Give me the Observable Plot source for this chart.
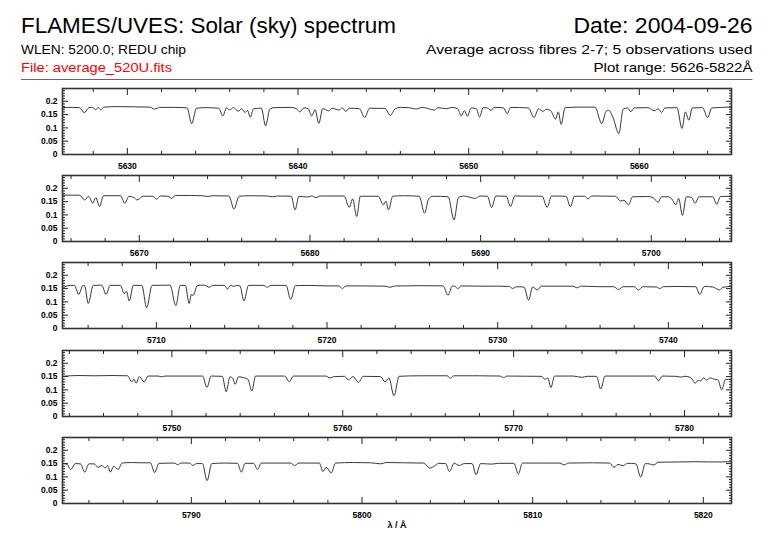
<!DOCTYPE html>
<html><head><meta charset="utf-8">
<script src="https://cdn.jsdelivr.net/npm/d3@7"></script>
<script src="https://cdn.jsdelivr.net/npm/@observablehq/plot@0.6"></script>
<style>
html,body{margin:0;padding:0;background:#fff;}
#chart{position:relative;width:782px;height:542px;overflow:hidden;background:#fff;}
#chart svg{position:absolute;left:0;}
</style></head><body><div id="chart"></div>
<script>
// ---- texts ----
const titleText = "FLAMES/UVES: Solar (sky) spectrum";
const dateText = "Date: 2004-09-26";
const infoLeft = "WLEN: 5200.0; REDU chip";
const infoRight = "Average across fibres 2-7; 5 observations used";
const fileText = "File: average_520U.fits";
const rangeText = "Plot range: 5626-5822Å";
const xLabel = "λ / Å";

// ---- axes ----
const panelDomains = [[5626.2,5665.4],[5665.5,5704.7],[5704.5,5743.7],[5743.6,5782.75],[5782.45,5821.65]];
const yDomain = [0, 0.248];
const yMajor = [0, 0.05, 0.1, 0.15, 0.2];
const yMajorLabels = ["0", "0.05", "0.1", "0.15", "0.2"];
const yMinor = [0.01,0.02,0.03,0.04,0.06,0.07,0.08,0.09,0.11,0.12,0.13,0.14,0.16,0.17,0.18,0.19,0.21,0.22,0.23,0.24];

// ---- spectrum: [wavelength (Å), flux] ----
const spec1 = [[5626.2,0.176],[5626.8,0.177],[5627.2,0.176],[5627.48,0.157],[5627.75,0.176],[5627.95,0.177],[5628.14,0.169],[5628.3,0.176],[5628.45,0.168],[5628.62,0.178],[5629.5,0.180],[5630.5,0.179],[5631.3,0.178],[5631.6,0.171],[5631.9,0.177],[5632.8,0.177],[5633.5,0.175],[5633.77,0.116],[5634.05,0.174],[5634.6,0.176],[5635.35,0.174],[5635.6,0.145],[5635.8,0.175],[5636.0,0.168],[5636.2,0.176],[5636.5,0.163],[5636.7,0.172],[5636.9,0.158],[5637.05,0.165],[5637.2,0.140],[5637.4,0.172],[5637.85,0.174],[5638.1,0.108],[5638.35,0.170],[5638.6,0.176],[5639.6,0.177],[5639.9,0.172],[5640.1,0.160],[5640.35,0.175],[5640.6,0.172],[5640.8,0.145],[5641.0,0.168],[5641.22,0.117],[5641.45,0.172],[5641.8,0.164],[5642.0,0.174],[5642.4,0.167],[5642.6,0.175],[5642.8,0.162],[5643.0,0.174],[5643.6,0.172],[5643.9,0.139],[5644.2,0.174],[5645.1,0.173],[5645.4,0.147],[5645.7,0.172],[5646.0,0.177],[5646.5,0.176],[5646.9,0.171],[5647.3,0.177],[5648.0,0.167],[5648.2,0.176],[5648.7,0.172],[5649.0,0.177],[5649.35,0.172],[5649.57,0.145],[5649.75,0.165],[5649.92,0.144],[5650.15,0.175],[5650.45,0.172],[5650.64,0.141],[5650.85,0.176],[5651.1,0.175],[5651.3,0.166],[5651.5,0.177],[5652.05,0.175],[5652.26,0.153],[5652.45,0.177],[5653.5,0.175],[5653.82,0.139],[5654.1,0.172],[5654.35,0.162],[5654.55,0.170],[5654.8,0.165],[5655.09,0.133],[5655.25,0.160],[5655.42,0.113],[5655.65,0.176],[5656.5,0.178],[5657.4,0.178],[5657.8,0.116],[5658.05,0.162],[5658.2,0.166],[5658.45,0.140],[5658.8,0.079],[5659.05,0.170],[5659.3,0.175],[5659.5,0.161],[5659.7,0.175],[5660.5,0.176],[5660.9,0.164],[5661.1,0.172],[5661.3,0.158],[5661.5,0.175],[5662.2,0.176],[5662.5,0.098],[5662.7,0.160],[5662.9,0.129],[5663.1,0.175],[5663.7,0.176],[5664.0,0.139],[5664.25,0.175],[5665.4,0.178]];
const spec2 = [[5665.5,0.174],[5666.5,0.174],[5666.8,0.156],[5667.03,0.170],[5667.28,0.144],[5667.45,0.165],[5667.67,0.131],[5667.9,0.172],[5668.9,0.172],[5669.15,0.144],[5669.4,0.170],[5669.7,0.165],[5669.86,0.156],[5670.0,0.160],[5670.2,0.170],[5670.8,0.170],[5671.0,0.159],[5671.25,0.171],[5671.7,0.170],[5671.9,0.162],[5672.1,0.173],[5673.0,0.173],[5673.7,0.172],[5674.0,0.169],[5674.3,0.172],[5675.25,0.171],[5675.55,0.122],[5675.85,0.170],[5676.5,0.172],[5677.5,0.171],[5677.8,0.168],[5678.1,0.171],[5678.9,0.170],[5679.13,0.119],[5679.35,0.170],[5679.86,0.167],[5680.1,0.171],[5680.35,0.165],[5680.6,0.171],[5682.0,0.171],[5682.3,0.128],[5682.5,0.160],[5682.74,0.094],[5682.95,0.170],[5684.0,0.170],[5684.3,0.138],[5684.45,0.152],[5684.6,0.119],[5684.85,0.170],[5685.5,0.172],[5686.4,0.170],[5686.72,0.106],[5686.95,0.160],[5687.2,0.170],[5688.1,0.168],[5688.44,0.081],[5688.7,0.165],[5689.0,0.171],[5689.7,0.162],[5689.95,0.171],[5690.4,0.170],[5690.64,0.128],[5690.9,0.171],[5691.5,0.170],[5691.75,0.131],[5692.0,0.171],[5693.6,0.170],[5693.9,0.128],[5694.15,0.171],[5695.0,0.170],[5695.26,0.131],[5695.5,0.170],[5696.1,0.170],[5696.3,0.160],[5696.5,0.171],[5697.9,0.170],[5698.2,0.152],[5698.4,0.155],[5698.67,0.138],[5698.9,0.168],[5699.8,0.169],[5700.1,0.165],[5700.4,0.148],[5700.6,0.168],[5701.0,0.168],[5701.2,0.160],[5701.44,0.138],[5701.6,0.162],[5701.83,0.098],[5702.05,0.168],[5702.35,0.166],[5702.57,0.144],[5702.8,0.168],[5703.6,0.168],[5703.84,0.140],[5704.05,0.169],[5704.7,0.170]];
const spec3 = [[5704.5,0.150],[5704.77,0.160],[5705.2,0.162],[5705.45,0.128],[5705.7,0.162],[5705.8,0.160],[5706.01,0.094],[5706.3,0.162],[5706.8,0.163],[5707.05,0.128],[5707.3,0.162],[5707.9,0.162],[5708.12,0.131],[5708.25,0.140],[5708.41,0.103],[5708.65,0.162],[5709.15,0.162],[5709.43,0.078],[5709.75,0.162],[5710.8,0.163],[5711.14,0.086],[5711.4,0.162],[5711.7,0.162],[5711.92,0.094],[5712.05,0.128],[5712.15,0.124],[5712.4,0.161],[5712.8,0.163],[5713.1,0.155],[5713.3,0.162],[5714.0,0.162],[5714.16,0.148],[5714.35,0.162],[5714.55,0.158],[5714.7,0.162],[5714.9,0.160],[5715.13,0.103],[5715.4,0.162],[5716.3,0.162],[5716.5,0.155],[5716.7,0.162],[5717.6,0.162],[5717.87,0.109],[5718.15,0.161],[5719.0,0.162],[5720.0,0.160],[5720.7,0.160],[5720.9,0.150],[5721.1,0.160],[5722.0,0.160],[5723.4,0.159],[5723.7,0.155],[5724.0,0.160],[5724.5,0.160],[5725.5,0.161],[5726.8,0.160],[5727.09,0.125],[5727.35,0.160],[5727.5,0.158],[5727.67,0.150],[5727.85,0.160],[5729.0,0.159],[5730.0,0.159],[5730.7,0.158],[5730.87,0.150],[5731.05,0.156],[5731.25,0.157],[5731.55,0.155],[5731.81,0.106],[5732.05,0.156],[5732.33,0.145],[5732.55,0.159],[5734.4,0.159],[5734.66,0.153],[5734.9,0.159],[5736.0,0.157],[5736.8,0.157],[5737.09,0.146],[5737.35,0.157],[5738.0,0.157],[5738.25,0.145],[5738.5,0.157],[5739.3,0.156],[5739.5,0.150],[5739.7,0.157],[5740.5,0.158],[5741.6,0.157],[5741.84,0.128],[5742.1,0.158],[5742.6,0.156],[5743.0,0.145],[5743.2,0.155],[5743.7,0.158]];
const spec4 = [[5743.6,0.151],[5744.5,0.154],[5745.5,0.153],[5746.5,0.154],[5747.4,0.153],[5747.66,0.130],[5747.78,0.140],[5747.9,0.125],[5748.1,0.150],[5748.38,0.130],[5748.6,0.152],[5749.2,0.152],[5749.4,0.149],[5749.6,0.152],[5751.8,0.152],[5752.05,0.109],[5752.3,0.152],[5752.95,0.151],[5753.18,0.093],[5753.4,0.149],[5753.55,0.145],[5753.7,0.121],[5753.9,0.149],[5754.2,0.146],[5754.45,0.140],[5754.68,0.096],[5754.9,0.152],[5756.6,0.152],[5756.88,0.130],[5757.1,0.152],[5759.0,0.152],[5759.26,0.145],[5759.5,0.150],[5760.1,0.151],[5760.33,0.138],[5760.6,0.150],[5760.92,0.128],[5761.2,0.151],[5762.2,0.150],[5762.48,0.130],[5762.7,0.145],[5763.0,0.078],[5763.3,0.151],[5764.5,0.153],[5766.1,0.153],[5766.3,0.144],[5766.5,0.153],[5768.0,0.153],[5769.2,0.152],[5769.42,0.146],[5769.6,0.152],[5771.6,0.151],[5771.85,0.140],[5772.0,0.145],[5772.18,0.109],[5772.4,0.152],[5773.5,0.152],[5774.0,0.147],[5774.3,0.151],[5774.85,0.151],[5775.1,0.103],[5775.35,0.152],[5777.0,0.152],[5778.25,0.152],[5778.48,0.134],[5778.7,0.152],[5779.5,0.151],[5779.8,0.148],[5780.0,0.151],[5780.3,0.148],[5780.45,0.140],[5780.62,0.125],[5780.8,0.136],[5780.95,0.133],[5781.1,0.145],[5781.3,0.137],[5781.5,0.145],[5781.75,0.140],[5781.95,0.138],[5782.18,0.100],[5782.4,0.140],[5782.75,0.138]];
const spec5 = [[5782.45,0.150],[5782.7,0.148],[5782.93,0.128],[5783.2,0.150],[5783.5,0.149],[5783.75,0.118],[5784.0,0.149],[5784.3,0.149],[5784.53,0.136],[5784.75,0.143],[5784.95,0.133],[5785.1,0.143],[5785.25,0.118],[5785.45,0.140],[5785.7,0.128],[5785.95,0.152],[5786.5,0.154],[5787.0,0.153],[5787.6,0.153],[5787.85,0.116],[5788.1,0.151],[5789.0,0.152],[5789.2,0.146],[5789.4,0.152],[5789.9,0.152],[5790.1,0.143],[5790.3,0.150],[5790.65,0.150],[5790.92,0.086],[5791.2,0.150],[5792.0,0.152],[5792.7,0.151],[5792.93,0.118],[5793.15,0.151],[5793.65,0.151],[5793.87,0.128],[5794.1,0.152],[5795.8,0.152],[5796.05,0.143],[5796.3,0.152],[5797.5,0.152],[5797.71,0.120],[5797.9,0.136],[5798.2,0.115],[5798.45,0.152],[5799.5,0.154],[5800.5,0.153],[5801.1,0.149],[5801.4,0.154],[5802.5,0.153],[5803.6,0.152],[5803.98,0.133],[5804.2,0.139],[5804.5,0.151],[5804.9,0.150],[5805.12,0.120],[5805.4,0.151],[5805.7,0.143],[5806.0,0.150],[5806.45,0.150],[5806.68,0.108],[5806.95,0.150],[5807.6,0.148],[5808.0,0.151],[5808.9,0.151],[5809.16,0.111],[5809.4,0.152],[5810.5,0.152],[5811.6,0.152],[5811.84,0.145],[5812.1,0.152],[5813.5,0.153],[5814.5,0.152],[5814.77,0.136],[5815.0,0.147],[5815.3,0.142],[5815.55,0.151],[5816.05,0.149],[5816.33,0.099],[5816.6,0.150],[5816.9,0.148],[5817.1,0.145],[5817.35,0.155],[5818.5,0.156],[5819.5,0.157],[5820.5,0.156],[5821.65,0.157]];
const spectra = [spec1, spec2, spec3, spec4, spec5];

// ---- layout ----
const chart = document.getElementById("chart");
const W = 782, frameH = 66, padTop = 8;
const frameTops = [88, 175.2, 262.4, 349.6, 436.8];
const mL = 62, mR = 51;
const tickFont = "'Liberation Sans', Arial, Helvetica, sans-serif";

spectra.forEach((data, i) => {
  const [x0, x1] = panelDomains[i];
  const major = d3.range(Math.ceil(x0 / 10) * 10, x1, 10);
  const minor = d3.range(Math.ceil(x0 / 2) * 2, x1, 2).filter(v => v % 10 !== 0);
  const last = i === spectra.length - 1;
  const mB = last ? 40 : 26;
  const fmtY = d => yMajorLabels[yMajor.indexOf(d)];
  const plot = Plot.plot({
    width: W, height: padTop + frameH + mB,
    marginLeft: mL, marginRight: mR, marginTop: padTop, marginBottom: mB,
    x: {domain: [x0, x1]},
    y: {domain: yDomain},
    style: {fontFamily: tickFont, fontSize: "8.5px", fontWeight: "bold", color: "#000", background: "transparent", overflow: "visible"},
    marks: [
      Plot.line(data, {x: d => d[0], y: d => d[1], stroke: "#2e2e2e", strokeWidth: 0.95, curve: "monotone-x", clip: true}),
      Plot.axisX({anchor: "bottom", ticks: minor, tickSize: -3, fill: "none", label: null, stroke: "#222"}),
      Plot.axisX({anchor: "bottom", ticks: major, tickSize: -6, fill: "none", label: null, stroke: "#222"}),
      Plot.axisX({anchor: "top", ticks: minor, tickSize: -3, fill: "none", label: null, stroke: "#222"}),
      Plot.axisX({anchor: "top", ticks: major, tickSize: -6, fill: "none", label: null, stroke: "#222"}),
      Plot.axisX({anchor: "bottom", ticks: major, tickSize: 0, tickPadding: 8, tickFormat: d => String(d), label: null, fill: "#000"}),
      Plot.axisY({anchor: "left", ticks: yMinor, tickSize: -3, fill: "none", label: null, stroke: "#222"}),
      Plot.axisY({anchor: "left", ticks: yMajor, tickSize: -6, fill: "none", label: null, stroke: "#222"}),
      Plot.axisY({anchor: "right", ticks: yMinor, tickSize: -3, fill: "none", label: null, stroke: "#222"}),
      Plot.axisY({anchor: "right", ticks: yMajor, tickSize: -6, fill: "none", label: null, stroke: "#222"}),
      Plot.axisY({anchor: "left", ticks: yMajor, tickSize: 0, tickPadding: 5, tickFormat: fmtY, label: null, fill: "#000"}),
      Plot.frame({stroke: "#333", strokeWidth: 1.6}),
      last ? Plot.text([xLabel], {text: d => d, frameAnchor: "bottom", dy: 24, fontSize: 9, fontWeight: "bold", fill: "#000"}) : null
    ]
  });
  plot.style.position = "absolute";
  plot.style.top = (frameTops[i] - padTop) + "px";
  plot.style.left = "0px";
  plot.style.maxWidth = "none";
  chart.appendChild(plot);
});

// ---- header ----
const hdr = d3.create("svg").attr("width", W).attr("height", 86)
  .style("position", "absolute").style("top", "0px").style("left", "0px");
const hFont = "'Liberation Sans', Arial, sans-serif";
const headerTexts = [
  {t: titleText, x: 21, w: 375, y: 33, s: 22, c: "#000"},
  {t: dateText, x: 573.5, w: 179, y: 33, s: 22, c: "#000"},
  {t: infoLeft, x: 21, w: 165, y: 53.5, s: 13, c: "#000"},
  {t: infoRight, x: 426, w: 326.5, y: 53.5, s: 13, c: "#000"},
  {t: fileText, x: 21, w: 151, y: 71.5, s: 13, c: "#ff0000"},
  {t: rangeText, x: 593.5, w: 159, y: 71.5, s: 13, c: "#000"}
];
headerTexts.forEach(h => {
  hdr.append("text").attr("x", h.x).attr("y", h.y).attr("font-family", hFont)
    .attr("font-size", h.s).attr("fill", h.c)
    .attr("textLength", h.w).attr("lengthAdjust", "spacingAndGlyphs").text(h.t);
});
hdr.append("line").attr("x1", 21).attr("x2", 752.5).attr("y1", 79.5).attr("y2", 79.5)
  .attr("stroke", "#666").attr("stroke-width", 1);
chart.appendChild(hdr.node());
</script></body></html>
